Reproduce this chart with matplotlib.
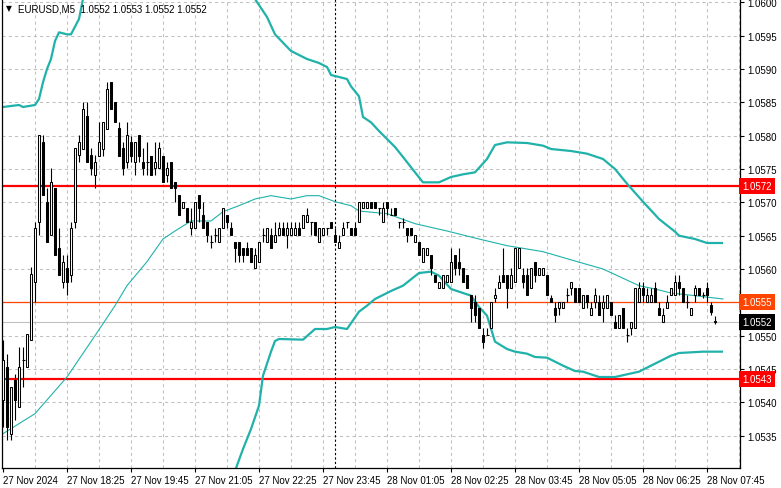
import matplotlib
matplotlib.use('Agg')
import matplotlib.pyplot as plt
from matplotlib.transforms import blended_transform_factory
import numpy as np

# ---------------- data (EURUSD M5, bar 0 = 27 Nov 17:05) ----------------
opens = [1.05403, 1.05453, 1.05353, 1.05433, 1.05393, 1.05463, 1.05453, 1.05493, 1.05581, 1.05671,
         1.05791, 1.05701, 1.05651, 1.05721, 1.05631, 1.05581, 1.05601, 1.05591, 1.05671, 1.05771,
         1.05780, 1.05830, 1.05771, 1.05741, 1.05770, 1.05780, 1.05810, 1.05880, 1.05850, 1.05811,
         1.05781, 1.05761, 1.05790, 1.05760, 1.05801, 1.05761, 1.05760, 1.05770, 1.05751, 1.05751,
         1.05770, 1.05741, 1.05760, 1.05731, 1.05711, 1.05691, 1.05691, 1.05661, 1.05661, 1.05711,
         1.05681, 1.05671, 1.05641, 1.05651, 1.05641, 1.05661, 1.05681, 1.05661, 1.05641, 1.05641,
         1.05631, 1.05631, 1.05631, 1.05601, 1.05611, 1.05651, 1.05641, 1.05651, 1.05641, 1.05651,
         1.05661, 1.05651, 1.05651, 1.05651, 1.05661, 1.05661, 1.05671, 1.05671, 1.05671, 1.05641,
         1.05651, 1.05661, 1.05671, 1.05651, 1.05631, 1.05651, 1.05671, 1.05661, 1.05661, 1.05671,
         1.05691, 1.05691, 1.05701, 1.05701, 1.05691, 1.05671, 1.05701, 1.05681, 1.05691, 1.05671,
         1.05671, 1.05661, 1.05661, 1.05641, 1.05641, 1.05611, 1.05621, 1.05621, 1.05591, 1.05571,
         1.05571, 1.05581, 1.05581, 1.05621, 1.05611, 1.05601, 1.05591, 1.05561, 1.05551, 1.05541,
         1.05501, 1.05501, 1.05511, 1.05556, 1.05571, 1.05591, 1.05591, 1.05571, 1.05581, 1.05601,
         1.05591, 1.05591, 1.05571, 1.05611, 1.05591, 1.05591, 1.05591, 1.05556, 1.05541, 1.05541,
         1.05541, 1.05561, 1.05571, 1.05571, 1.05571, 1.05541, 1.05561, 1.05531, 1.05551, 1.05551,
         1.05541, 1.05541, 1.05551, 1.05521, 1.05511, 1.05541, 1.05501, 1.05511, 1.05511, 1.05551,
         1.05571, 1.05551, 1.05551, 1.05571, 1.05541, 1.05521, 1.05541, 1.05561, 1.05561, 1.05581,
         1.05571, 1.05551, 1.05531, 1.05561, 1.05571, 1.05561, 1.05571, 1.05546, 1.05522]
highs = [1.05493, 1.05473, 1.05423, 1.05443, 1.05483, 1.05483, 1.05503, 1.05603, 1.05671, 1.05801,
         1.05801, 1.05721, 1.05751, 1.05721, 1.05661, 1.05621, 1.05621, 1.05671, 1.05781, 1.05801,
         1.05850, 1.05850, 1.05781, 1.05771, 1.05820, 1.05820, 1.05880, 1.05880, 1.05850, 1.05820,
         1.05790, 1.05820, 1.05800, 1.05790, 1.05801, 1.05781, 1.05790, 1.05770, 1.05790, 1.05790,
         1.05770, 1.05761, 1.05760, 1.05731, 1.05711, 1.05701, 1.05691, 1.05691, 1.05701, 1.05711,
         1.05701, 1.05671, 1.05651, 1.05661, 1.05661, 1.05691, 1.05681, 1.05671, 1.05641, 1.05641,
         1.05631, 1.05641, 1.05631, 1.05631, 1.05641, 1.05661, 1.05661, 1.05661, 1.05671, 1.05671,
         1.05671, 1.05671, 1.05671, 1.05671, 1.05671, 1.05681, 1.05691, 1.05671, 1.05671, 1.05661,
         1.05661, 1.05661, 1.05671, 1.05661, 1.05651, 1.05671, 1.05671, 1.05661, 1.05671, 1.05701,
         1.05701, 1.05701, 1.05701, 1.05701, 1.05691, 1.05701, 1.05701, 1.05691, 1.05691, 1.05671,
         1.05676, 1.05661, 1.05661, 1.05651, 1.05641, 1.05631, 1.05631, 1.05621, 1.05591, 1.05581,
         1.05591, 1.05591, 1.05631, 1.05621, 1.05631, 1.05601, 1.05591, 1.05561, 1.05561, 1.05541,
         1.05511, 1.05511, 1.05551, 1.05571, 1.05591, 1.05631, 1.05591, 1.05601, 1.05631, 1.05631,
         1.05601, 1.05601, 1.05601, 1.05611, 1.05601, 1.05601, 1.05591, 1.05561, 1.05551, 1.05551,
         1.05551, 1.05571, 1.05581, 1.05571, 1.05571, 1.05561, 1.05561, 1.05551, 1.05571, 1.05561,
         1.05561, 1.05561, 1.05551, 1.05531, 1.05531, 1.05541, 1.05511, 1.05521, 1.05571, 1.05581,
         1.05581, 1.05571, 1.05571, 1.05581, 1.05551, 1.05541, 1.05561, 1.05571, 1.05591, 1.05591,
         1.05571, 1.05561, 1.05541, 1.05576, 1.05571, 1.05566, 1.05581, 1.05551, 1.05530]
lows = [1.05363, 1.05343, 1.05343, 1.05373, 1.05393, 1.05423, 1.05453, 1.05493, 1.05551, 1.05651,
        1.05711, 1.05641, 1.05651, 1.05621, 1.05591, 1.05571, 1.05561, 1.05581, 1.05661, 1.05761,
        1.05780, 1.05760, 1.05741, 1.05721, 1.05770, 1.05770, 1.05810, 1.05840, 1.05820, 1.05770,
        1.05741, 1.05751, 1.05761, 1.05741, 1.05760, 1.05741, 1.05741, 1.05741, 1.05741, 1.05751,
        1.05731, 1.05731, 1.05721, 1.05701, 1.05681, 1.05691, 1.05671, 1.05651, 1.05661, 1.05671,
        1.05661, 1.05641, 1.05631, 1.05641, 1.05641, 1.05661, 1.05661, 1.05651, 1.05611, 1.05611,
        1.05611, 1.05621, 1.05611, 1.05601, 1.05611, 1.05641, 1.05641, 1.05631, 1.05641, 1.05651,
        1.05651, 1.05631, 1.05651, 1.05651, 1.05651, 1.05661, 1.05671, 1.05651, 1.05651, 1.05641,
        1.05651, 1.05651, 1.05661, 1.05641, 1.05631, 1.05651, 1.05661, 1.05651, 1.05651, 1.05671,
        1.05691, 1.05691, 1.05691, 1.05691, 1.05681, 1.05671, 1.05681, 1.05681, 1.05681, 1.05661,
        1.05661, 1.05641, 1.05651, 1.05641, 1.05621, 1.05611, 1.05621, 1.05591, 1.05581, 1.05571,
        1.05571, 1.05581, 1.05581, 1.05591, 1.05591, 1.05581, 1.05571, 1.05521, 1.05521, 1.05511,
        1.05481, 1.05501, 1.05511, 1.05551, 1.05571, 1.05581, 1.05541, 1.05571, 1.05581, 1.05601,
        1.05571, 1.05561, 1.05571, 1.05581, 1.05591, 1.05591, 1.05561, 1.05551, 1.05521, 1.05531,
        1.05541, 1.05551, 1.05561, 1.05551, 1.05551, 1.05541, 1.05541, 1.05531, 1.05541, 1.05531,
        1.05521, 1.05541, 1.05531, 1.05511, 1.05511, 1.05511, 1.05491, 1.05501, 1.05511, 1.05551,
        1.05551, 1.05551, 1.05551, 1.05551, 1.05531, 1.05521, 1.05541, 1.05561, 1.05561, 1.05561,
        1.05551, 1.05541, 1.05531, 1.05551, 1.05561, 1.05556, 1.05551, 1.05531, 1.05518]
closes = [1.05463, 1.05363, 1.05423, 1.05403, 1.05453, 1.05463, 1.05503, 1.05593, 1.05661, 1.05801,
          1.05711, 1.05641, 1.05731, 1.05621, 1.05591, 1.05611, 1.05581, 1.05661, 1.05781, 1.05791,
          1.05840, 1.05760, 1.05751, 1.05761, 1.05790, 1.05820, 1.05870, 1.05840, 1.05820, 1.05770,
          1.05751, 1.05801, 1.05770, 1.05790, 1.05770, 1.05751, 1.05760, 1.05741, 1.05761, 1.05781,
          1.05731, 1.05751, 1.05721, 1.05721, 1.05681, 1.05701, 1.05671, 1.05671, 1.05701, 1.05691,
          1.05661, 1.05651, 1.05641, 1.05651, 1.05661, 1.05691, 1.05671, 1.05651, 1.05631, 1.05621,
          1.05621, 1.05621, 1.05611, 1.05621, 1.05641, 1.05651, 1.05661, 1.05631, 1.05651, 1.05661,
          1.05651, 1.05661, 1.05661, 1.05661, 1.05651, 1.05681, 1.05681, 1.05671, 1.05651, 1.05661,
          1.05661, 1.05661, 1.05661, 1.05641, 1.05641, 1.05661, 1.05671, 1.05651, 1.05651, 1.05701,
          1.05701, 1.05701, 1.05691, 1.05691, 1.05691, 1.05691, 1.05691, 1.05681, 1.05681, 1.05671,
          1.05671, 1.05651, 1.05651, 1.05651, 1.05621, 1.05631, 1.05631, 1.05601, 1.05581, 1.05581,
          1.05591, 1.05591, 1.05611, 1.05601, 1.05601, 1.05581, 1.05571, 1.05541, 1.05531, 1.05511,
          1.05491, 1.05501, 1.05551, 1.05561, 1.05581, 1.05581, 1.05571, 1.05591, 1.05631, 1.05631,
          1.05581, 1.05561, 1.05601, 1.05591, 1.05601, 1.05601, 1.05561, 1.05551, 1.05531, 1.05551,
          1.05551, 1.05561, 1.05581, 1.05551, 1.05551, 1.05561, 1.05551, 1.05541, 1.05561, 1.05531,
          1.05551, 1.05561, 1.05531, 1.05511, 1.05531, 1.05511, 1.05501, 1.05521, 1.05571, 1.05571,
          1.05561, 1.05561, 1.05561, 1.05551, 1.05531, 1.05531, 1.05551, 1.05571, 1.05581, 1.05571,
          1.05551, 1.05551, 1.05541, 1.05571, 1.05561, 1.05561, 1.05561, 1.05536, 1.05520]

# Bollinger bands, read at sample bars
upper1_idx = [0, 4, 5, 8, 9, 10, 11, 12, 13, 14, 16, 17, 19, 20, 21]
upper1_val = [1.05843, 1.05846, 1.05843, 1.05846, 1.05855, 1.05880, 1.05900, 1.05915, 1.05942, 1.05955,
              1.05952, 1.05952, 1.05975, 1.06005, 1.06020]
upper2_idx = [62, 63, 66, 68, 72, 76, 79, 81, 82, 86, 87, 89, 90, 92, 94, 96, 98, 100, 103, 105, 109,
              112, 115, 118, 121, 123, 126, 131, 135, 137, 142, 146, 150, 153, 156, 160, 164, 168, 169,
              173, 176, 180]
upper2_val = [1.06020, 1.06005, 1.05978, 1.05952, 1.05927, 1.05915, 1.05909, 1.05903, 1.05891, 1.05885,
              1.05874, 1.05859, 1.05828, 1.05820, 1.05807, 1.05795, 1.05783, 1.05768, 1.05745, 1.05730,
              1.05730, 1.05738, 1.05742, 1.05745, 1.05765, 1.05786, 1.05790, 1.05789, 1.05785, 1.05780,
              1.05777, 1.05773, 1.05765, 1.05750, 1.05728, 1.05701, 1.05675, 1.05656, 1.05650, 1.05645,
              1.05639, 1.05639]
mid_idx = [0, 8, 16, 23, 28, 31, 36, 40, 43, 47, 52, 55, 59, 63, 67, 72, 76, 79, 83, 87, 89, 96, 103,
           111, 119, 126, 135, 143, 150, 159, 163, 167, 173, 180]
mid_val = [1.05353, 1.05383, 1.05438, 1.05500, 1.05545, 1.05575, 1.05611, 1.05645, 1.05657, 1.05672,
           1.05672, 1.05686, 1.05695, 1.05705, 1.05710, 1.05705, 1.05710, 1.05710, 1.05701, 1.05695,
           1.05687, 1.05683, 1.05668, 1.05657, 1.05645, 1.05635, 1.05626, 1.05612, 1.05600, 1.05575,
           1.05570, 1.05564, 1.05560, 1.05555]
lower_idx = [58, 60, 62, 64, 65, 67, 68, 69, 75, 78, 81, 83, 86, 89, 91, 93, 97, 100, 104, 107, 109,
             112, 114, 117, 119, 121, 123, 126, 128, 131, 133, 136, 140, 143, 145, 149, 153, 159, 162,
             167, 169, 175, 180]
lower_val = [1.05297, 1.05330, 1.05360, 1.05395, 1.05440, 1.05476, 1.05492, 1.05495, 1.05494, 1.05510,
             1.05510, 1.05513, 1.05510, 1.05536, 1.05545, 1.05555, 1.05567, 1.05575, 1.05594, 1.05596,
             1.05590, 1.05570, 1.05566, 1.05560, 1.05543, 1.05530, 1.05491, 1.05480, 1.05476, 1.05473,
             1.05468, 1.05467, 1.05455, 1.05447, 1.05446, 1.05438, 1.05438, 1.05446, 1.05455, 1.05470,
             1.05474, 1.05476, 1.05476]

levels = [1.05725, 1.05435, 1.05550]
level_labels = ["1.0572", "1.0543", "1.0555"]
bid = 1.05520
bid_label = "1.0552"
separator_bar = 83

xtick_bars = [0, 16, 32, 48, 64, 80, 96, 112, 128, 144, 160, 176]
xtick_labels = ["27 Nov 2024", "27 Nov 18:25", "27 Nov 19:45", "27 Nov 21:05", "27 Nov 22:25",
                "27 Nov 23:45", "28 Nov 01:05", "28 Nov 02:25", "28 Nov 03:45", "28 Nov 05:05",
                "28 Nov 06:25", "28 Nov 07:45"]
header = "EURUSD,M5  1.0552 1.0553 1.0552 1.0552"

# ---------------- drawing ----------------
plt.rcParams['font.family'] = ['Liberation Sans', 'DejaVu Sans']
W, H = 781, 489
fig = plt.figure(figsize=(W / 100, H / 100), dpi=100)
fig.patch.set_facecolor('white')
ax = fig.add_axes([2 / W, 20 / H, 738 / W, 469 / H])
ax.set_facecolor('white')
ax.set_xlim(-0.25, 184.25)
ax.set_ylim(1.053015, 1.06005)

grid_c = '#C0C0C0'
gls = (0, (3, 3))
yt = [1.0535 + 0.0005 * k for k in range(14)]
for y in yt:
    ax.axhline(y, color=grid_c, lw=0.75, ls=gls, zorder=0)
for b in range(8, 185, 8):
    ax.axvline(b, color=grid_c, lw=0.75, ls=gls, zorder=0)

# levels
ax.axhline(bid, color='#C0C0C0', lw=0.8, zorder=1)
ax.axhline(levels[2], color='#FF4500', lw=0.9, zorder=1)
ax.axhline(levels[0], color='#FF0000', lw=1.6, zorder=1)
ax.axhline(levels[1], color='#FF0000', lw=1.6, zorder=1)

# period separator
ax.axvline(separator_bar, color='black', lw=0.8, ls=(0, (2, 2)), zorder=1)

# bands
bc = '#20B2AA'
ax.plot(upper1_idx, upper1_val, color=bc, lw=1.6, zorder=2, solid_capstyle='butt')
ax.plot(upper2_idx, upper2_val, color=bc, lw=1.6, zorder=2, solid_capstyle='butt')
ax.plot(lower_idx, lower_val, color=bc, lw=1.6, zorder=2, solid_capstyle='butt')
ax.plot(mid_idx, mid_val, color=bc, lw=0.8, zorder=2)

# candles
n = len(opens)
x = np.arange(n)
o = np.array(opens); h = np.array(highs); l = np.array(lows); c = np.array(closes)
ax.vlines(x, l, h, color='black', lw=0.8, zorder=3)
bw = 0.55
up = c > o
dn = c < o
eq = c == o
ax.bar(x[up], (c - o)[up], bottom=o[up], width=bw, color='white', edgecolor='black', lw=0.75, zorder=4)
ax.bar(x[dn], (o - c)[dn], bottom=c[dn], width=bw, color='black', edgecolor='black', lw=0.75, zorder=4)
ax.hlines(o[eq], x[eq] - bw / 2 - 0.1, x[eq] + bw / 2 + 0.1, color='black', lw=0.8, zorder=4)

# axes styling
ax.spines['top'].set_visible(False)
for s in ['left', 'right', 'bottom']:
    ax.spines[s].set_color('black')
    ax.spines[s].set_linewidth(0.9)
ax.yaxis.tick_right()
ax.set_yticks(yt)
# the 1.0555 tick label is hidden under the level tag in the reference
ax.set_yticklabels(["" if abs(v - levels[2]) < 1e-6 else f"{v:.4f}" for v in yt])
ax.tick_params(axis='y', direction='out', length=3, width=0.8, labelsize=7, pad=2, colors='black')
ax.set_xticks(xtick_bars)
ax.set_xticklabels(xtick_labels, ha='left')
ax.tick_params(axis='x', direction='out', length=3, width=0.8, labelsize=7, pad=2, colors='black')

# right-side price labels
tr = blended_transform_factory(ax.transAxes, ax.transData)
def tag(val, txt, fc):
    ax.text(1.003, val, txt, transform=tr, ha='left', va='center', fontsize=7, color='white',
            bbox=dict(boxstyle='square,pad=0.3', fc=fc, ec='none'), zorder=10, clip_on=False)
tag(levels[0], level_labels[0], '#FF0000')
tag(levels[1], level_labels[1], '#FF0000')
tag(levels[2], level_labels[2], '#FF4500')
tag(bid, bid_label, '#000000')

# header
fig.text(6 / W, 1 - 9 / H, '\u25BC', fontsize=5.5, family=['DejaVu Sans'], va='center', ha='left')
fig.text(18 / W, 1 - 9 / H, header, fontsize=7, va='center', ha='left')

fig.savefig('out.png', dpi=100, facecolor='white')
